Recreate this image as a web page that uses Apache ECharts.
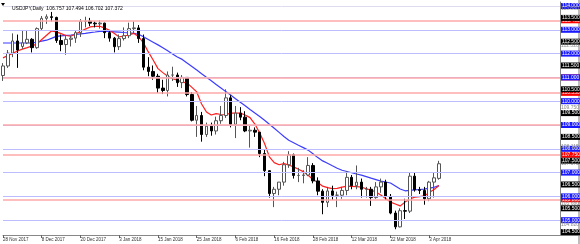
<!DOCTYPE html>
<html><head><meta charset="utf-8">
<script src="https://cdn.jsdelivr.net/npm/echarts@6/dist/echarts.min.js"></script>
<style>html,body{margin:0;padding:0;background:#fff}#c{width:580px;height:244px}</style>
</head><body><div id="c"></div>
<script>
const dates = ['28 Nov 2017','29 Nov 2017','30 Nov 2017','1 Dec 2017','4 Dec 2017','5 Dec 2017','6 Dec 2017','7 Dec 2017',
'8 Dec 2017','11 Dec 2017','12 Dec 2017','13 Dec 2017','14 Dec 2017','15 Dec 2017','18 Dec 2017','19 Dec 2017',
'20 Dec 2017','21 Dec 2017','22 Dec 2017','26 Dec 2017','27 Dec 2017','28 Dec 2017','29 Dec 2017','2 Jan 2018',
'3 Jan 2018','4 Jan 2018','5 Jan 2018','8 Jan 2018','9 Jan 2018','10 Jan 2018','11 Jan 2018','12 Jan 2018',
'15 Jan 2018','16 Jan 2018','17 Jan 2018','18 Jan 2018','19 Jan 2018','22 Jan 2018','23 Jan 2018','24 Jan 2018',
'25 Jan 2018','26 Jan 2018','29 Jan 2018','30 Jan 2018','31 Jan 2018','1 Feb 2018','2 Feb 2018','5 Feb 2018',
'6 Feb 2018','7 Feb 2018','8 Feb 2018','9 Feb 2018','12 Feb 2018','13 Feb 2018','14 Feb 2018','15 Feb 2018',
'16 Feb 2018','19 Feb 2018','20 Feb 2018','21 Feb 2018','22 Feb 2018','23 Feb 2018','26 Feb 2018','27 Feb 2018',
'28 Feb 2018','1 Mar 2018','2 Mar 2018','5 Mar 2018','6 Mar 2018','7 Mar 2018','8 Mar 2018','9 Mar 2018',
'12 Mar 2018','13 Mar 2018','14 Mar 2018','15 Mar 2018','16 Mar 2018','19 Mar 2018','20 Mar 2018','21 Mar 2018',
'22 Mar 2018','23 Mar 2018','26 Mar 2018','27 Mar 2018','28 Mar 2018','29 Mar 2018','30 Mar 2018','2 Apr 2018',
'3 Apr 2018','4 Apr 2018','5 Apr 2018'];
const opens = [111.08,111.48,112.02,112.53,112.30,112.45,112.60,112.25,113.05,113.48,113.55,113.52,112.55,112.38,112.60,112.65,
112.88,113.35,113.36,113.28,113.25,113.28,112.88,112.65,112.29,112.63,112.75,113.05,113.08,112.63,111.43,111.25,
111.05,110.55,110.45,111.10,111.10,110.78,111.00,110.28,109.20,109.40,108.60,108.95,108.75,109.18,109.40,110.14,
109.03,109.50,109.33,108.75,108.78,108.70,107.80,107.08,106.12,106.30,106.60,107.33,107.75,106.88,106.88,106.90,
107.30,106.65,106.22,105.75,106.23,106.05,106.05,106.25,106.80,106.45,106.60,106.30,106.30,105.95,106.40,106.60,
106.00,105.30,104.72,105.40,105.38,106.85,106.28,106.25,105.90,106.60,106.757];
const highs = [111.60,112.15,112.85,112.80,112.95,112.95,112.65,113.10,113.58,113.65,113.75,113.55,112.80,112.75,112.75,112.95,
113.45,113.55,113.50,113.35,113.40,113.30,112.95,112.70,112.80,113.10,113.30,113.35,113.20,112.80,111.85,111.50,
111.15,110.90,111.25,111.45,111.20,111.10,111.00,110.38,109.80,109.55,109.10,109.10,109.35,109.80,110.50,110.25,
109.80,109.75,109.58,109.00,108.90,108.70,107.95,107.10,106.40,106.60,107.45,107.90,107.80,107.20,107.10,107.65,
107.40,106.80,106.30,106.40,106.45,106.20,106.40,107.05,106.90,107.30,106.75,106.40,106.40,106.60,106.75,106.70,
106.10,105.40,105.50,105.90,107.00,107.00,106.40,106.40,106.65,107.00,107.494];
const lows = [110.85,111.40,111.85,111.40,112.20,112.40,112.05,112.20,112.95,113.25,113.35,112.45,112.10,111.95,112.30,112.45,
112.70,113.10,113.15,113.10,113.05,112.65,112.50,112.05,112.15,112.55,112.65,112.85,112.45,111.30,111.05,110.90,
110.35,110.30,110.20,110.85,110.60,110.55,110.20,109.15,108.50,108.30,108.50,108.55,108.60,109.05,109.30,108.90,
108.45,109.20,108.70,108.05,108.50,107.65,106.85,105.95,105.55,106.05,106.45,107.20,106.75,106.60,106.55,106.85,
106.55,106.05,105.25,105.55,105.85,105.55,105.90,106.05,106.30,106.30,105.95,105.95,105.60,105.90,106.15,105.85,
105.25,104.62,104.70,105.05,105.30,106.20,106.10,105.65,105.80,105.95,106.702];
const closes = [111.48,112.02,112.53,112.15,112.45,112.60,112.25,113.05,113.48,113.55,113.52,112.55,112.38,112.60,112.65,112.88,
113.35,113.36,113.28,113.25,113.28,112.88,112.65,112.29,112.63,112.75,113.05,113.08,112.63,111.43,111.25,111.05,
110.55,110.45,111.10,111.10,110.78,111.00,110.28,109.20,109.40,108.60,108.95,108.75,109.18,109.40,110.14,109.03,
109.50,109.33,108.75,108.78,108.70,107.80,107.08,106.12,106.30,106.60,107.33,107.75,106.88,106.88,106.90,107.30,
106.65,106.22,105.75,106.23,106.05,106.05,106.25,106.80,106.45,106.60,106.30,106.30,105.95,106.40,106.60,106.00,
105.30,104.72,105.40,105.38,106.85,106.28,106.25,105.90,106.60,106.78,107.372];
const maRed = [111.82,111.92,112.01,112.11,112.19,112.25,112.32,112.41,112.59,112.77,
112.95,112.91,112.84,112.76,112.73,112.83,112.93,113.03,113.12,113.14,
113.15,113.07,112.98,112.84,112.70,112.74,112.78,112.85,112.71,112.45,
112.07,111.73,111.37,111.20,111.05,110.95,110.88,110.80,110.77,110.58,
110.39,109.88,109.55,109.42,109.48,109.44,109.43,109.50,109.50,109.50,
109.42,109.31,109.04,108.66,108.22,107.66,107.42,107.33,107.38,107.32,
107.24,107.14,107.04,106.89,106.71,106.58,106.43,106.37,106.33,106.34,
106.39,106.43,106.42,106.41,106.39,106.32,106.27,106.18,106.06,105.91,
105.76,105.68,105.60,105.76,105.89,105.97,105.99,106.02,106.16,106.29,106.46];
const maBlue = [112.445,112.445,112.445,112.445,112.445,112.445,112.445,112.483,112.525,112.563,
112.639,112.723,112.748,112.765,112.777,112.803,112.828,112.853,112.882,112.908,
112.937,112.941,112.929,112.916,112.903,112.887,112.874,112.849,112.811,112.706,
112.592,112.479,112.366,112.248,112.118,111.987,111.857,111.756,111.605,111.458,
111.307,111.155,111.004,110.857,110.706,110.555,110.403,110.256,110.105,109.954,
109.807,109.655,109.504,109.357,109.202,109.029,108.861,108.689,108.517,108.357,
108.256,108.151,108.050,107.945,107.790,107.630,107.492,107.391,107.286,107.185,
107.097,107.046,106.992,106.941,106.891,106.828,106.765,106.706,106.643,106.605,
106.563,106.437,106.311,106.235,106.252,106.273,106.290,106.303,106.345,106.382,106.450];
const priceTicks = ['104.500','105.000','105.500','106.000','106.500','107.000','107.500','108.000','108.500','109.000',
'109.500','110.000','110.500','111.000','111.500','112.000','112.500','113.000','113.500','114.000'];
const redLevels = ['113.400','111.000','110.350','109.000','107.750','105.880'];
const grayLevels = ['113.880','112.320','109.750','108.115','107.372','105.680','104.820'];
const headerText = 'USDJPY,Daily  106.757 107.494 106.702 107.372';
const padCount = 25;

const cats = dates.concat(Array.from({length: padCount}, (_, i) => '_' + i));
const candles = dates.map((d, i) => [opens[i], closes[i], lows[i], highs[i]]);
const CLEAR = 'rgba(255,255,255,0)';

const lbl = (bg, color) => ({
  show: true, position: 'end', distance: 1, formatter: p => p.name,
  fontSize: 5, fontFamily: 'Liberation Sans', color: color || '#fff',
  backgroundColor: bg, padding: [1, 1, 0, 1], lineHeight: 5
});
const labelOnly = priceTicks.map(t => {
  const v = parseFloat(t);
  const whole = Math.abs(v - Math.round(v)) < 1e-6;
  return {name: t, yAxis: v, lineStyle: {color: CLEAR, width: 1}, label: lbl(whole ? '#1a1aff' : '#000000')};
});
const mlRed = redLevels.map(t => ({
  name: t, yAxis: parseFloat(t),
  lineStyle: {color: '#ffa8a8', type: 'solid', width: 1.5},
  label: lbl('#ff0000')
}));
const mlGray = grayLevels.map(t => ({
  name: t, yAxis: parseFloat(t),
  lineStyle: {color: CLEAR, width: 1},
  label: Object.assign(lbl(CLEAR, '#8a8a8a'), {padding: 0})
}));
const mlLevels = priceTicks.filter(t => Math.abs(parseFloat(t) - Math.round(parseFloat(t))) < 1e-6).map(t => {
  const v = parseFloat(t);
  return {name: t, yAxis: v, label: {show: false},
    lineStyle: {color: v >= 114 ? '#dcdcee' : '#bcbcff', type: 'solid', width: 1}};
});

const chart = echarts.init(document.getElementById('c'), null, {renderer: 'canvas'});
chart.setOption({
  animation: false,
  backgroundColor: '#ffffff',
  title: {text: headerText, left: 7, top: 1, textStyle: {fontSize: 5, fontWeight: 'normal', color: '#000', fontFamily: 'Liberation Sans'}},
  grid: {left: 0, right: 20, top: 2, bottom: 9},
  xAxis: {
    type: 'category', data: cats, boundaryGap: false,
    axisLine: {lineStyle: {color: '#888', width: 1}},
    axisTick: {show: true, interval: (i) => i % 8 === 0 && i < dates.length, length: 3, lineStyle: {color: '#666'}},
    axisLabel: {interval: 7, align: 'left', margin: 2, fontSize: 4.5, color: '#333', fontFamily: 'Liberation Sans',
      formatter: v => v.charAt(0) === '_' ? '' : v},
    splitLine: {show: false}
  },
  yAxis: {
    type: 'value', position: 'right', min: 104.378, max: 114.168,
    axisLine: {show: true, lineStyle: {color: '#888'}}, axisTick: {show: false},
    axisLabel: {show: false}, splitLine: {show: false}
  },
  series: [
    {type: 'line', data: [], silent: true, z: 1,
     markLine: {silent: true, symbol: ['none', 'none'], data: mlLevels, animation: false}},
    {type: 'line', data: [], silent: true, z: 2,
     markLine: {silent: true, symbol: ['none', 'none'], data: mlRed, animation: false}},
    {type: 'line', data: [], silent: true, z: 6,
     markLine: {silent: true, symbol: ['none', 'none'], data: labelOnly.concat(mlGray), animation: false}},
    {type: 'line', data: maBlue, symbol: 'none', lineStyle: {color: '#3c3cff', width: 1.2}, z: 3},
    {type: 'line', data: maRed, symbol: 'none', lineStyle: {color: '#ff2020', width: 1.2}, z: 3},
    {type: 'candlestick', data: candles, barWidth: 3, z: 4,
     itemStyle: {color: '#ffffff', color0: '#000000', borderColor: '#555555', borderColor0: '#000000', borderWidth: 1}}
  ],
  graphic: [
    {type: 'polygon', shape: {points: [[1, 3], [5, 3], [3, 6]]}, style: {fill: '#000'}},
    {type: 'rect', shape: {x: 578, y: 0, width: 2, height: 244}, style: {fill: '#bdbdbd'}},
    {type: 'line', shape: {x1: 560, y1: 235.5, x2: 580, y2: 235.5}, style: {stroke: '#888', lineWidth: 1}}
  ]
});
</script></body></html>
